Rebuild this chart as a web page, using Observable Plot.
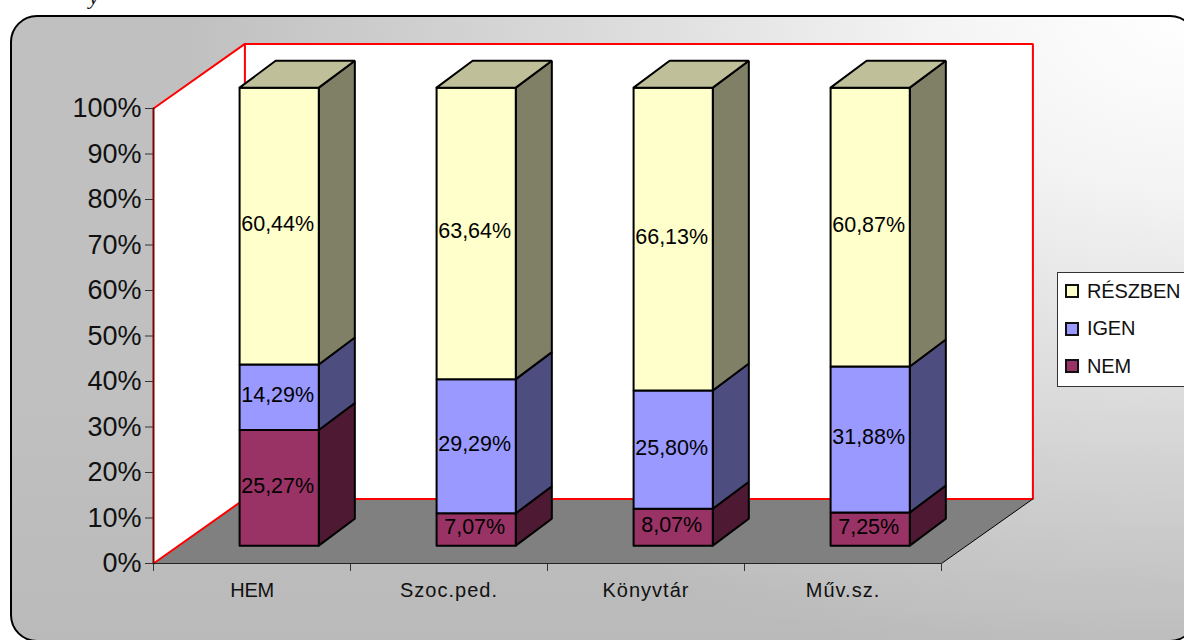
<!DOCTYPE html>
<html>
<head>
<meta charset="utf-8">
<script src="https://cdn.jsdelivr.net/npm/d3@7"></script>
<script src="https://cdn.jsdelivr.net/npm/@observablehq/plot@0.6"></script>
<style>
html,body{margin:0;padding:0;background:#fff;overflow:hidden;width:1184px;height:640px;font-family:"Liberation Sans",Arial,sans-serif}
#panel{position:absolute;left:10px;top:15px;width:1183px;height:623px;border:2px solid #000;border-radius:27px;
background:linear-gradient(to bottom,rgba(0,0,0,0) 60%,rgba(0,0,0,.03) 100%),radial-gradient(ellipse 1000px 660px at 1174px 0px,#ffffff 0%,#f4f4f4 25%,#dadada 60%,#c0c0c0 100%)}
#chart{position:absolute;left:0;top:0}
#chart svg{background:transparent;display:block;max-width:none}
#legend{position:absolute;left:1057px;top:272px;width:140px;height:113px;background:#fff;border:1px solid #333;box-sizing:content-box}
.it{position:absolute;left:7px;height:13px;display:flex;align-items:center;font-size:20px;color:#111;white-space:nowrap;letter-spacing:-.15px}
.it i{display:block;width:10px;height:10px;border:2px solid #111;margin-right:8px;flex:none}
#frag{position:absolute;left:89px;top:-16px;font:italic 22px "Liberation Serif",serif;color:#111}
</style>
</head>
<body>
<div id="frag">y</div>
<div id="panel"></div>
<div id="chart"></div>
<div id="legend"></div>
<script>
const categories = ["HEM", "Szoc.ped.", "Könyvtár", "Műv.sz."];
const nem = [25.27, 7.07, 8.07, 7.25];
const igen = [14.29, 29.29, 25.80, 31.88];
const reszben = [60.44, 63.64, 66.13, 60.87];
const yTicks = [0, 10, 20, 30, 40, 50, 60, 70, 80, 90, 100];
const xTicks = [0, 1, 2, 3, 4];

const seriesNames = ["NEM", "IGEN", "RÉSZBEN"];
const seriesValues = [nem, igen, reszben];
const frontColors = ["#993366", "#9999FF", "#FFFFCC"];
const sideColors = ["#4D1933", "#4D4D80", "#808066"];
const topColor = "#BFBF99";

// projection constants, in data units of the x and y scales
const wallDx = 0.464, wallDy = 14.2;
const barLiftX = 0.138, barLiftY = 3.92, barWidth = 0.402, barDepthX = 0.183, barDepthY = 5.93, barStretch = 1.0066;
const n = categories.length;

const poly = (id, color, pts) => pts.map(([x, y]) => ({id, color, x, y}));
const walls = [
  ...poly("left", "#fff", [[0,100],[wallDx,100+wallDy],[wallDx,wallDy],[0,0],[0,100]]),
  ...poly("back", "#fff", [[wallDx,100+wallDy],[n+wallDx,100+wallDy],[n+wallDx,wallDy],[wallDx,wallDy],[wallDx,100+wallDy]]),
  ...poly("floor", "#808080", [[0,0],[wallDx,wallDy],[n+wallDx,wallDy],[n,0],[0,0]])
];
const redEdges = [
  ...poly("a", "#f00", [[0,100],[wallDx,100+wallDy],[n+wallDx,100+wallDy],[n+wallDx,wallDy],[wallDx,wallDy],[0,0]]),
  ...poly("b", "#f00", [[wallDx,100+wallDy],[wallDx,wallDy]])
];
const darkEdges = poly("c", "#800000", [[0,0],[0,100]]);
const floorEdge = poly("d", "#000", [[n,0],[n+wallDx,wallDy]]);

const faces = [], labels = [];
categories.forEach((c, i) => {
  const x0 = i + 0.5 + barLiftX - barWidth / 2, x1 = x0 + barWidth;
  let cum = 0;
  seriesValues.forEach((vals, s) => {
    const v = vals[i];
    const y0 = barLiftY + cum * barStretch, y1 = barLiftY + (cum + v) * barStretch;
    faces.push(...poly(`${i}-${s}-side`, sideColors[s], [[x1,y0],[x1+barDepthX,y0+barDepthY],[x1+barDepthX,y1+barDepthY],[x1,y1],[x1,y0]]));
    faces.push(...poly(`${i}-${s}-front`, frontColors[s], [[x0,y0],[x1,y0],[x1,y1],[x0,y1],[x0,y0]]));
    if (s === seriesValues.length - 1)
      faces.push(...poly(`${i}-top`, topColor, [[x0,y1],[x1,y1],[x1+barDepthX,y1+barDepthY],[x0+barDepthX,y1+barDepthY],[x0,y1]]));
    labels.push({x: (x0 + x1) / 2, y: (y0 + y1) / 2, text: v.toFixed(2).replace(".", ",") + "%"});
    cum += v;
  });
});

const lineOpts = {x: "x", y: "y", z: "id"};
const plot = Plot.plot({
  width: 1184, height: 640,
  marginLeft: 153, marginRight: 243, marginTop: 108, marginBottom: 77,
  style: {background: "transparent", fontFamily: "'Liberation Sans',Arial,sans-serif", color: "#111"},
  x: {domain: [0, 4], axis: null},
  y: {domain: [0, 100], axis: null},
  color: {type: "identity"},
  marks: [
    Plot.line(walls, {...lineOpts, fill: "color", stroke: null}),
    Plot.line(redEdges, {...lineOpts, stroke: "color", strokeWidth: 2, strokeLinejoin: "miter"}),
    Plot.line(darkEdges, {...lineOpts, stroke: "color", strokeWidth: 2}),
    Plot.line(floorEdge, {...lineOpts, stroke: "color", strokeWidth: 1}),
    Plot.axisY({ticks: yTicks, tickFormat: d => d + "%", tickSize: 8, tickPadding: 4, fontSize: 27, label: null, stroke: "#333"}),
    Plot.axisX({ticks: xTicks, tickFormat: () => "", tickSize: 8, label: null, stroke: "#333"}),
    Plot.ruleY([0], {stroke: "#222", strokeWidth: 1}),
    Plot.text(categories, {x: (d, i) => i + 0.5, y: () => 0, text: d => d, dy: 27, fontSize: 20, fill: "#111"}),
    Plot.line(faces, {...lineOpts, fill: "color", stroke: "#000", strokeWidth: 2, strokeLinejoin: "miter"}),
    Plot.text(labels, {x: "x", y: "y", text: "text", dx: -1.5, dy: -2, fontSize: 21.5, fill: "#000"})
  ]
});
document.getElementById("chart").appendChild(plot);

d3.select(plot).selectAll("text").each(function () {
  const t = this.textContent;
  if (categories.includes(t)) this.style.letterSpacing = t === "HEM" ? "-0.3px" : "1px";
});

const legend = document.getElementById("legend");
[2, 1, 0].forEach((s, row) => {
  const it = document.createElement("div");
  it.className = "it";
  it.style.top = (11.5 + row * 37.5) + "px";
  const sw = document.createElement("i");
  sw.style.background = frontColors[s];
  it.appendChild(sw);
  it.appendChild(document.createTextNode(seriesNames[s]));
  legend.appendChild(it);
});
</script>
</body>
</html>
